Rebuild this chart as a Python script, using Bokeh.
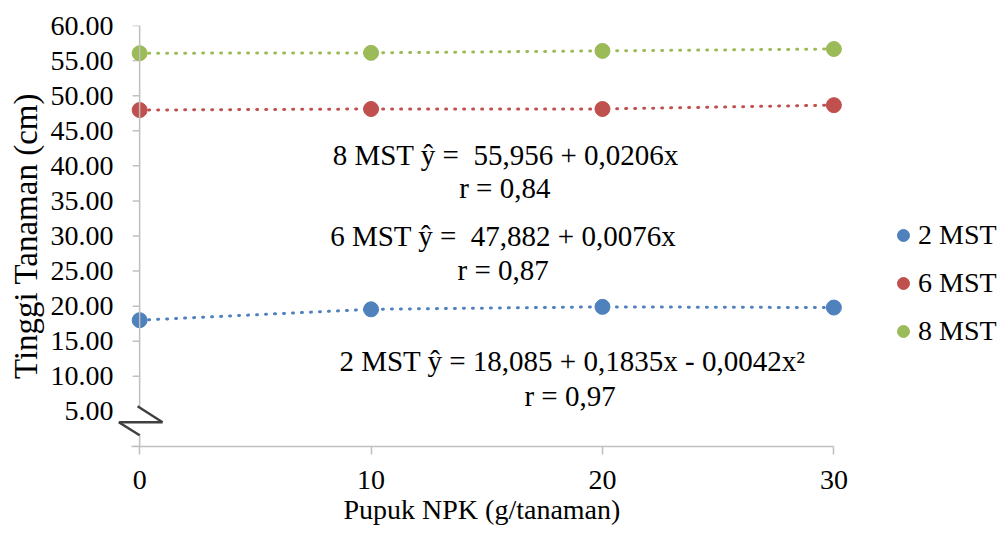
from bokeh.plotting import figure
from bokeh.models import (Range1d, FixedTicker, NumeralTickFormatter, Legend, LegendItem,
                          BoxAnnotation, Arrow, Span, Title)
from bokeh.embed import file_html
from bokeh.resources import INLINE
from bokeh.core.properties import value

# ---------------- data ----------------
pupuk_npk = [0, 10, 20, 30]
mst_2 = [18.0, 19.55, 19.9, 19.8]
mst_6 = [47.95, 48.1, 48.1, 48.65]
mst_8 = [56.05, 56.1, 56.38, 56.65]
series_names = ["2 MST", "6 MST", "8 MST"]
series_colors = ["#4F81BD", "#C0504D", "#9BBB59"]
y_ticks = [0, 5, 10, 15, 20, 25, 30, 35, 40, 45, 50, 55, 60]
x_ticks = [0, 10, 20, 30]
y_title = "Tinggi Tanaman (cm)"
x_title = "Pupuk NPK (g/tanaman)"

eq_texts = ["8 MST \u0177 =\u00a0 55,956 + 0,0206x", "r = 0,84",
            "6 MST \u0177 =\u00a0 47,882 + 0,0076x", "r = 0,87",
            "2 MST \u0177 = 18,085 + 0,1835x - 0,0042x\u00b2", "r = 0,97"]
eq_x = [15.82, 15.78, 15.71, 15.71, 18.7, 18.6]
eq_y = [41.6, 36.8, 29.97, 25.1, 12.18, 7.2]

FONT = "Liberation Serif"
FS = "28px"
AXIS_COL = "#BFBFBF"

p = figure(width=1000, height=536, x_range=Range1d(-1.0, 37.2), y_range=Range1d(0, 60),
           output_backend="svg", toolbar_location=None,
           min_border_left=116, min_border_right=0, min_border_top=25, min_border_bottom=90)
p.xgrid.visible = False
p.ygrid.visible = False
p.outline_line_color = None
p.background_fill_color = "white"
p.border_fill_color = "white"

# y axis (labels only; visible line drawn at x = 0)
yax = p.yaxis[0]
yax.ticker = FixedTicker(ticks=y_ticks)
yax.formatter = NumeralTickFormatter(format="0.00")
yax.major_label_overrides = {0: ""}
yax.major_tick_in = 0
yax.major_tick_out = 0
yax.minor_tick_line_color = None
yax.axis_line_color = None
yax.major_tick_line_color = None
yax.major_label_standoff = 3
yax.major_label_text_font = FONT
yax.major_label_text_font_size = FS
yax.major_label_text_color = "black"

p.add_layout(Title(text=y_title, align="center", offset=-22, standoff=7,
                   text_font=FONT, text_font_size="33px", text_font_style="normal",
                   text_color="black"), "left")

p.add_layout(Span(location=0, dimension="height", line_color=AXIS_COL, line_width=1.5))
p.segment(x0=[0] * len(y_ticks), y0=y_ticks, x1=[-0.3] * len(y_ticks), y1=y_ticks,
          line_color=AXIS_COL, line_width=1.5)

# x axis
xax = p.xaxis[0]
xax.bounds = (-0.35, 30)
xax.ticker = FixedTicker(ticks=x_ticks)
xax.major_tick_in = 0
xax.major_tick_out = 8
xax.minor_tick_line_color = None
xax.axis_line_color = AXIS_COL
xax.axis_line_width = 1.5
xax.major_tick_line_color = AXIS_COL
xax.major_tick_line_width = 1.5
xax.major_label_standoff = 16
xax.major_label_text_font = FONT
xax.major_label_text_font_size = FS
xax.major_label_text_color = "black"

p.add_layout(Title(text=x_title, align="left", offset=227, standoff=0,
                   text_font=FONT, text_font_size=FS, text_font_style="normal",
                   text_color="black"), "below")

# series
items = []
for name, vals, col in zip(series_names, [mst_2, mst_6, mst_8], series_colors):
    p.line(pupuk_npk, vals, line_color=col, line_width=3, line_dash="1 8", line_cap="round")
    r = p.scatter(pupuk_npk, vals, size=15, fill_color=col, line_color=col)
    items.append(LegendItem(label=name, renderers=[r]))

legend = Legend(items=items, location=(772, 99), orientation="vertical",
                glyph_width=30, glyph_height=30, label_height=30, spacing=16,
                label_standoff=0, padding=0, margin=0,
                label_text_font=FONT, label_text_font_size=FS, label_text_color="black",
                border_line_color=None, background_fill_alpha=0)
p.add_layout(legend)

# equations
p.text(x=eq_x, y=eq_y, text=eq_texts, text_font=value(FONT), text_font_size="29px",
       text_align="center", text_baseline="middle", text_color="black")

# axis break symbol
p.add_layout(BoxAnnotation(left=-0.95, right=1.6, bottom=1.8, top=5.6, fill_color="white",
                           fill_alpha=1.0, line_color=None, level="overlay"))
brk_x = [-0.09, 0.99, -0.9, 0.0]
brk_y = [5.73, 3.45, 3.45, 1.6]
for i in range(3):
    p.add_layout(Arrow(x_start=brk_x[i], y_start=brk_y[i], x_end=brk_x[i + 1], y_end=brk_y[i + 1],
                       end=None, line_color="#404040", line_width=2.5, level="overlay"))

open("out.html", "w").write(file_html(p, INLINE))
